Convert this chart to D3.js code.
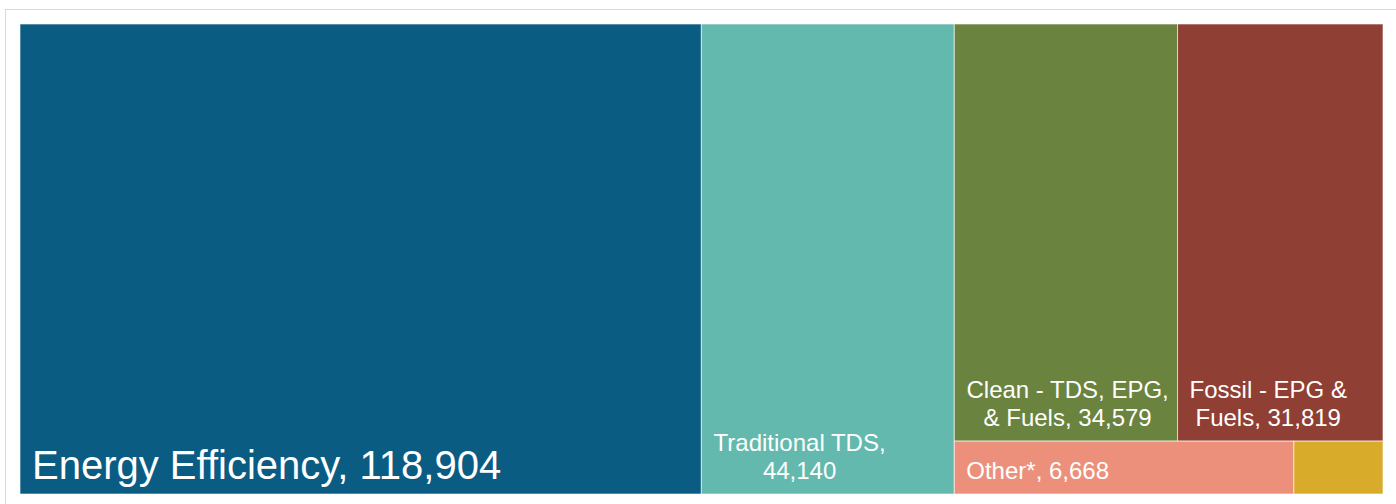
<!DOCTYPE html>
<html>
<head>
<meta charset="utf-8">
<script src="https://cdn.jsdelivr.net/npm/d3@7"></script>
<style>
  body { margin: 0; background: #fff; }
  svg { display: block; font-family: "Liberation Sans", Arial, sans-serif; }
</style>
</head>
<body>
<svg id="chart"></svg>
<script>
// categories and values (jobs)
const categories = ["Energy Efficiency", "Traditional TDS", "Clean - TDS, EPG, & Fuels",
                    "Fossil - EPG & Fuels", "Other*", "(unlabeled)"];
const values = [118904, 44140, 34579, 31819, 6668, 1750];
const colors = ["#0a5c83", "#64b9ae", "#6a833f", "#903f34", "#ec8f7b", "#d8ab2a"];
// how the cells are grouped: columns, then rows inside the last column
const groups = [[0], [1], [[2, 3], [4, 5]]];
const fontSizes = [40, 24, 24, 24, 24, 24];

const width = 1396, height = 504;
const x0 = 20, y0 = 24, x1 = 1383, y1 = 494;
const pad = 12, lineH = 28;

const svg = d3.select("#chart").attr("width", width).attr("height", height);

// outer frame
svg.append("rect")
    .attr("x", 5.5).attr("y", 9.5)
    .attr("width", width + 10).attr("height", height)
    .attr("fill", "none")
    .attr("stroke", "#d9d9d9");

// build hierarchy from the arrays
function build(g) {
    if (typeof g === "number") return { i: g, name: categories[g], value: values[g] };
    return { children: g.map(build) };
}
const root = d3.hierarchy(build(groups))
    .sum(d => d.value || 0);

d3.treemap()
    .tile(d3.treemapSliceDice)
    .size([x1 - x0, y1 - y0])
    .paddingInner(0)(root);

const fmt = d3.format(",");
const leaves = root.leaves();

const cell = svg.append("g")
    .attr("transform", "translate(" + x0 + "," + y0 + ")")
    .selectAll("g")
    .data(leaves)
    .enter()
    .append("g");

cell.append("rect")
    .attr("x", d => d.x0)
    .attr("y", d => d.y0)
    .attr("width", d => d.x1 - d.x0)
    .attr("height", d => d.y1 - d.y0)
    .attr("fill", d => colors[d.data.i])
    .attr("stroke", "#fff")
    .attr("stroke-opacity", 0.6)
    .attr("stroke-width", 1);

// a canvas to measure text
const ctx = document.createElement("canvas").getContext("2d");
function measure(s, size) {
    ctx.font = size + "px 'Liberation Sans', Arial, sans-serif";
    return ctx.measureText(s).width;
}

// word-wrap labels and stick them to the bottom left of each cell
cell.each(function(d) {
    const size = fontSizes[d.data.i];
    const text = d.data.name + ", " + fmt(d.data.value);
    const avail = d.x1 - d.x0 - 14;
    const words = text.split(" ");
    const lines = [];
    let cur = "";
    words.forEach(w => {
        const t = cur ? cur + " " + w : w;
        if (cur && measure(t, size) > avail) { lines.push(cur); cur = w; }
        else cur = t;
    });
    lines.push(cur);
    const blockW = d3.max(lines, l => measure(l, size));
    if (blockW > avail || lines.length * lineH > d.y1 - d.y0) return;
    const cx = d.x0 + pad + blockW / 2;
    const base = d.y1 - 15;
    d3.select(this).append("text")
        .attr("text-anchor", "middle")
        .attr("fill", "#fff")
        .attr("font-size", size)
        .selectAll("tspan")
        .data(lines)
        .enter()
        .append("tspan")
        .attr("x", cx)
        .attr("y", (l, k) => base - (lines.length - 1 - k) * lineH)
        .text(l => l);
});
</script>
</body>
</html>
